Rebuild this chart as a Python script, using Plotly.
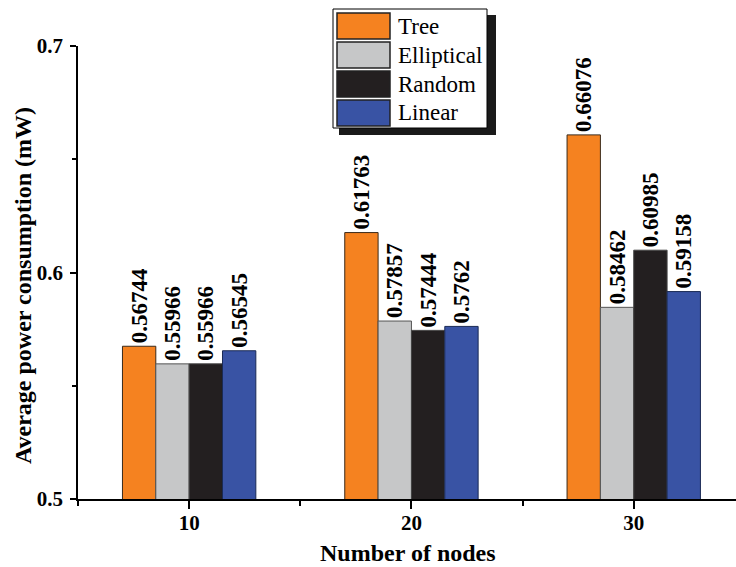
import plotly.graph_objects as go

nodes = [10, 20, 30]
series_names = ["Tree", "Elliptical", "Random", "Linear"]
tree = [0.56744, 0.61763, 0.66076]
elliptical = [0.55966, 0.57857, 0.58462]
random_ = [0.55966, 0.57444, 0.60985]
linear = [0.56545, 0.5762, 0.59158]
colors = ["#F58220", "#C6C7C8", "#231F20", "#3953A4"]
line_colors = ["#3a2a1a", "#555555", "#444444", "#1a2a55"]

values = [tree, elliptical, random_, linear]
FONT = "Liberation Serif"

W, H = 736, 567
L, R, T, B = 78, 0, 46, 68
pw, ph = W - L - R, H - T - B

fig = go.Figure()
for name, vals, c, lc in zip(series_names, values, colors, line_colors):
    fig.add_trace(go.Bar(
        x=nodes, y=vals, name=name,
        marker=dict(color=c, line=dict(color=lc, width=1)),
        text=[f"{v:g}" for v in vals], textposition="outside", textangle=-90,
        constraintext="none",
        textfont=dict(family=FONT, size=23, color="black", weight="bold"),
        cliponaxis=False, showlegend=False,
    ))

def px(x):
    return (x - L) / pw

def py(y):
    return (H - B - y) / ph

shapes = []
annotations = []
# legend shadow and box
shapes.append(dict(type="rect", xref="paper", yref="paper", x0=px(339), x1=px(496), y0=py(15), y1=py(135),
                   fillcolor="#1a1a1a", line=dict(width=0), layer="above"))
shapes.append(dict(type="rect", xref="paper", yref="paper", x0=px(333), x1=px(487), y0=py(9), y1=py(128),
                   fillcolor="white", line=dict(color="black", width=1), layer="above"))
for i, (name, c) in enumerate(zip(series_names, colors)):
    top = 13 + i * 29
    shapes.append(dict(type="rect", xref="paper", yref="paper", x0=px(337), x1=px(390), y0=py(top), y1=py(top + 26),
                       fillcolor=c, line=dict(color="#222222", width=1.5), layer="above"))
    annotations.append(dict(text=name, xref="paper", yref="paper", x=px(396), y=py(top + 13),
                            xanchor="left", yanchor="middle", showarrow=False,
                            font=dict(family=FONT, size=23, color="black")))

# axis titles
annotations.append(dict(text="Average power consumption (mW)", xref="paper", yref="paper",
                        x=px(23), y=py(286), xanchor="center", yanchor="middle", textangle=-90,
                        showarrow=False, font=dict(family=FONT, size=24, color="black", weight="bold")))
annotations.append(dict(text="Number of nodes", xref="paper", yref="paper",
                        x=px(408), y=py(553), xanchor="center", yanchor="middle",
                        showarrow=False, font=dict(family=FONT, size=24, color="black", weight="bold")))

fig.update_layout(
    width=W, height=H,
    margin=dict(l=L, r=R, t=T, b=B),
    plot_bgcolor="white", paper_bgcolor="white",
    barmode="group", bargap=0.4, bargroupgap=0,
    showlegend=False,
    shapes=shapes, annotations=annotations,
    font=dict(family=FONT, color="black"),
)
fig.update_xaxes(
    range=[5, 34.6], tickmode="array", tickvals=nodes, ticktext=[str(n) for n in nodes],
    showline=True, linecolor="black", linewidth=1.5, ticks="outside", ticklen=8, tickwidth=1.5, tickcolor="black",
    minor=dict(dtick=5, tick0=5, ticks="outside", ticklen=5, tickwidth=1.5, tickcolor="black"),
    showgrid=False, zeroline=False, ticklabelstandoff=-4,
    tickfont=dict(family=FONT, size=21, weight="bold"),
)
fig.update_yaxes(
    range=[0.5, 0.7], dtick=0.1, tick0=0.5, tickformat=".1f",
    showline=True, linecolor="black", linewidth=1.5, ticks="outside", ticklen=6, tickwidth=1.5, tickcolor="black",
    minor=dict(dtick=0.05, ticks="outside", ticklen=4, tickwidth=1.5, tickcolor="black"),
    showgrid=False, zeroline=False, ticklabelstandoff=3,
    tickfont=dict(family=FONT, size=21, weight="bold"),
)

fig.write_html("out.html", config={"displayModeBar": False},
               post_script="document.body.style.margin='0';document.body.style.overflow='hidden';")
